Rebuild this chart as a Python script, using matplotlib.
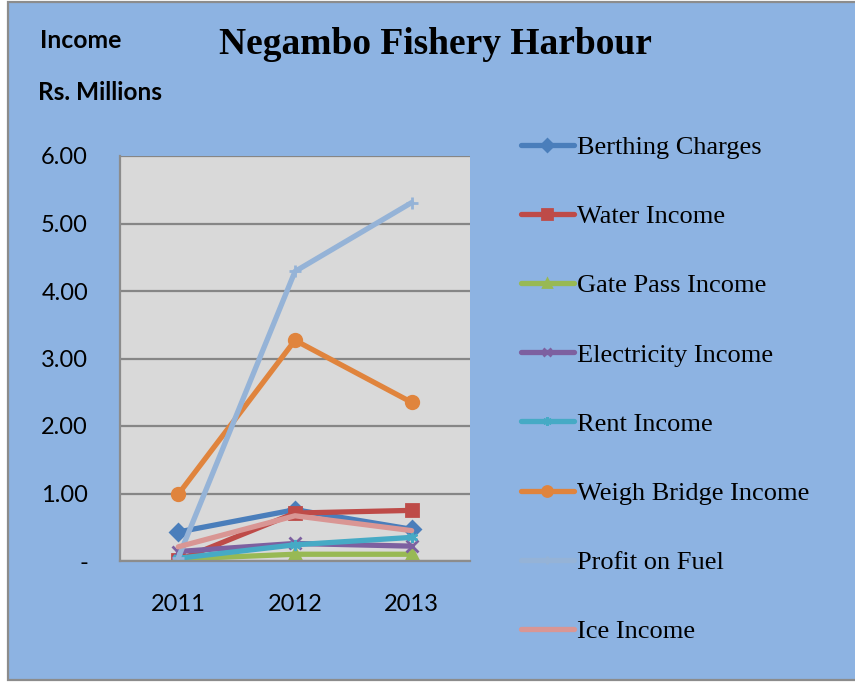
import matplotlib
matplotlib.use("Agg")
import matplotlib.pyplot as plt
from matplotlib.patches import Rectangle
from matplotlib.ticker import FuncFormatter

# Ingresos por año (Rs. millones)
years = ["2011", "2012", "2013"]
berthing = [0.43, 0.76, 0.47]
water = [0.01, 0.71, 0.75]
gate_pass = [0.03, 0.10, 0.10]
electricity = [0.14, 0.26, 0.22]
rent = [0.04, 0.24, 0.35]
weigh_bridge = [0.99, 3.27, 2.35]
profit_fuel = [0.05, 4.29, 5.31]
ice = [0.21, 0.67, 0.45]

series = [
	("Berthing Charges", berthing, "#4A7EBB", "D"),
	("Water Income", water, "#BE4B48", "s"),
	("Gate Pass Income", gate_pass, "#98B954", "^"),
	("Electricity Income", electricity, "#7D60A0", "x"),
	("Rent Income", rent, "#46AAC5", (6, 2, 0)),
	("Weigh Bridge Income", weigh_bridge, "#E0843D", "o"),
	("Profit on Fuel", profit_fuel, "#95B3D7", "+"),
	("Ice Income", ice, "#D99694", None),
]

fig = plt.figure(figsize=(8.55, 6.83), dpi=100, facecolor="white")
fig.patches.append(Rectangle((8/855, 3/683), 1.0, 1 - 5/683, transform=fig.transFigure,
	facecolor="#8DB3E2", edgecolor="#8C8C8C", linewidth=1.6, zorder=-5))

ax = fig.add_axes([120/855, 1 - 561/683, 350/855, 405/683])
ax.set_facecolor("#D9D9D9")

x = range(len(years))
for name, vals, color, mk in series:
	ms = 9 if mk in ("o", "s") else 8
	ax.plot(x, vals, color=color, linewidth=3.8, marker=mk, markersize=ms,
		markeredgewidth=2, markeredgecolor=color, label=name, solid_capstyle="round")

ax.set_xlim(-0.5, 2.5)
ax.set_ylim(0, 6)
ax.set_yticks([0, 1, 2, 3, 4, 5, 6])
ax.yaxis.set_major_formatter(FuncFormatter(lambda v, p: "-" if v == 0 else "%.2f" % v))
ax.set_xticks(list(x))
ax.set_xticklabels(years)
ax.grid(axis="y", color="#868686", linewidth=1.6)
ax.set_axisbelow(True)
ax.tick_params(length=0, labelsize=17, pad=23)
ax.tick_params(axis="x", pad=24)
for lab in ax.get_xticklabels() + ax.get_yticklabels():
	lab.set_family("Lato")
for s in ["top", "right"]:
	ax.spines[s].set_visible(False)
for s in ["left", "bottom"]:
	ax.spines[s].set_color("#8C8C8C")
	ax.spines[s].set_linewidth(1.6)

fig.text(219/855, 1 - 44/683, "Negambo Fishery Harbour", family="Liberation Serif",
	fontweight="bold", fontsize=27, va="center", ha="left")
fig.text(40/855, 1 - 41/683, "Income", family="Lato", fontweight="bold", fontsize=17.8, va="center")
fig.text(38/855, 1 - 92/683, "Rs. Millions", family="Lato", fontweight="bold", fontsize=17.6, va="center")

leg = fig.legend(loc="upper left", bbox_to_anchor=(497/855, 1 - 112/683), frameon=False,
	prop={"family": "Liberation Serif", "size": 19}, handlelength=2.0, handletextpad=0.15,
	labelspacing=1.73, markerscale=0.8)

fig.savefig("out.png", dpi=100, facecolor=fig.get_facecolor())
